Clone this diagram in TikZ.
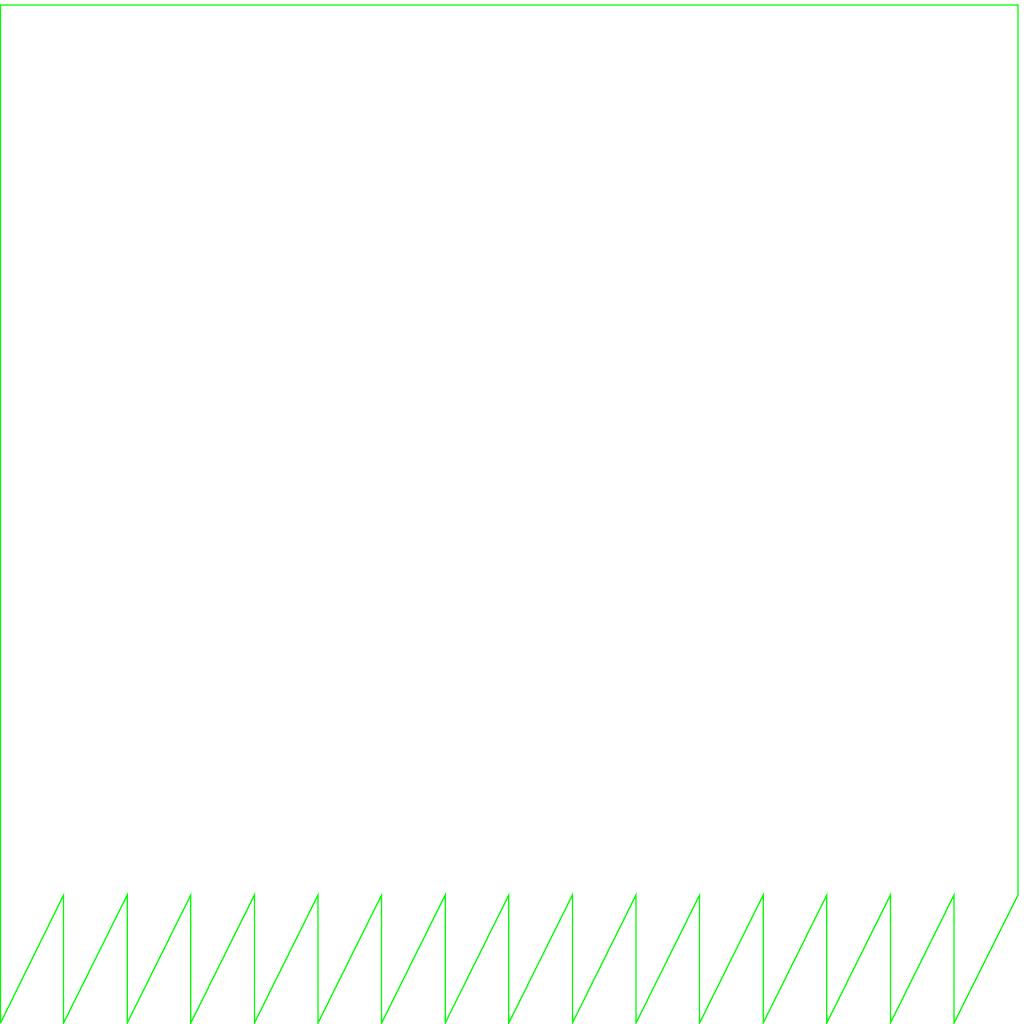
\documentclass[tikz,border=0pt]{standalone}
\definecolor{outlinegreen}{RGB}{0,255,0}
\tikzset{outline/.style={draw=outlinegreen, line width=0.35pt, line join=miter}}
\begin{document}
\begin{tikzpicture}[x=0.01cm,y=0.01cm]
\useasboundingbox (0,0) rectangle (1024,1024);
\draw[outline] (0.5,1) -- (0.5,1019) -- (1018,1019) -- (1018,129)
  foreach \i in {15,14,...,1} { -- ({\i*63.6},1) -- ({\i*63.6},129) }
  -- (0.5,1);
\end{tikzpicture}
\end{document}
